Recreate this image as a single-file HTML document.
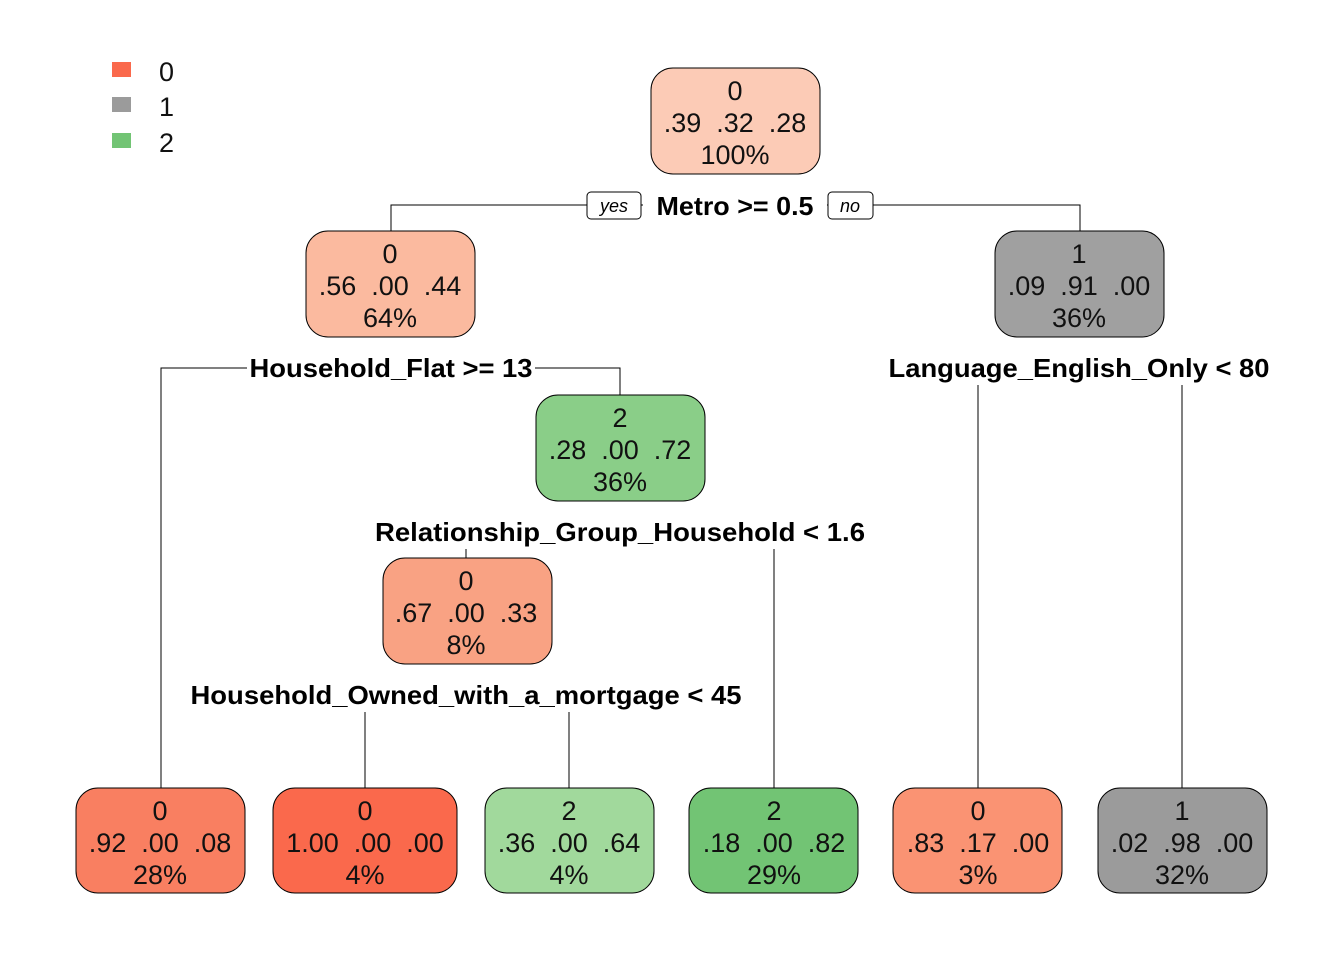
<!DOCTYPE html>
<html><head><style>body{margin:0;background:#fff}svg{display:block}</style></head><body>
<svg width="1344" height="960" xmlns="http://www.w3.org/2000/svg" font-family="Liberation Sans, Arial, sans-serif">
<rect width="1344" height="960" fill="#fff"/>
<g stroke="#000" stroke-width="1" fill="none">
<path d="M391 231V205H1080V231"/>
<path d="M161 788V368H620V395"/>
<path d="M978 385V788M1182 385V788"/>
<path d="M466 549V558M774 549V788"/>
<path d="M365 712V788M569 712V788"/>
</g>
<g font-size="26" font-weight="bold" text-anchor="middle" lengthAdjust="spacingAndGlyphs">
<rect x="643" y="192" width="184" height="28" fill="#fff"/>
<text x="735" y="215" textLength="157" lengthAdjust="spacingAndGlyphs">Metro &gt;= 0.5</text>
<rect x="247" y="354" width="288" height="28" fill="#fff"/>
<text x="391" y="377" textLength="283" lengthAdjust="spacingAndGlyphs">Household_Flat &gt;= 13</text>
<text x="1079" y="377" textLength="381" lengthAdjust="spacingAndGlyphs">Language_English_Only &lt; 80</text>
<text x="620" y="541" textLength="490" lengthAdjust="spacingAndGlyphs">Relationship_Group_Household &lt; 1.6</text>
<text x="466" y="704" textLength="551" lengthAdjust="spacingAndGlyphs">Household_Owned_with_a_mortgage &lt; 45</text>
</g>
<g font-size="18" font-style="italic" text-anchor="middle">
<rect x="587" y="192" width="54" height="27" rx="4" fill="#fff" stroke="#000"/>
<text x="614" y="212">yes</text>
<rect x="828" y="192" width="45" height="27" rx="4" fill="#fff" stroke="#000"/>
<text x="850" y="212">no</text>
</g>
<g stroke="#000" stroke-width="1">
<rect x="651" y="68" width="169" height="106" rx="22" fill="#FCCBB6"/>
<rect x="306" y="231" width="169" height="106" rx="22" fill="#FBBA9F"/>
<rect x="995" y="231" width="169" height="106" rx="22" fill="#A0A0A0"/>
<rect x="536" y="395" width="169" height="106" rx="22" fill="#8ACE88"/>
<rect x="383" y="558" width="169" height="106" rx="22" fill="#F9A283"/>
<rect x="76" y="788" width="169" height="105" rx="22" fill="#F97F61"/>
<rect x="273" y="788" width="184" height="105" rx="22" fill="#FA694C"/>
<rect x="485" y="788" width="169" height="105" rx="22" fill="#A1D99C"/>
<rect x="689" y="788" width="169" height="105" rx="22" fill="#72C474"/>
<rect x="893" y="788" width="169" height="105" rx="22" fill="#FA9373"/>
<rect x="1098" y="788" width="169" height="105" rx="22" fill="#9B9B9B"/>
</g>
<g font-size="27" text-anchor="middle" fill="#111">
<text x="735" y="100">0</text><text x="735" y="132" xml:space="preserve">.39  .32  .28</text><text x="735" y="164">100%</text>
<text x="390" y="263">0</text><text x="390" y="295" xml:space="preserve">.56  .00  .44</text><text x="390" y="327">64%</text>
<text x="1079" y="263">1</text><text x="1079" y="295" xml:space="preserve">.09  .91  .00</text><text x="1079" y="327">36%</text>
<text x="620" y="427">2</text><text x="620" y="459" xml:space="preserve">.28  .00  .72</text><text x="620" y="491">36%</text>
<text x="466" y="590">0</text><text x="466" y="622" xml:space="preserve">.67  .00  .33</text><text x="466" y="654">8%</text>
<text x="160" y="820">0</text><text x="160" y="852" xml:space="preserve">.92  .00  .08</text><text x="160" y="884">28%</text>
<text x="365" y="820">0</text><text x="365" y="852" xml:space="preserve">1.00  .00  .00</text><text x="365" y="884">4%</text>
<text x="569" y="820">2</text><text x="569" y="852" xml:space="preserve">.36  .00  .64</text><text x="569" y="884">4%</text>
<text x="774" y="820">2</text><text x="774" y="852" xml:space="preserve">.18  .00  .82</text><text x="774" y="884">29%</text>
<text x="978" y="820">0</text><text x="978" y="852" xml:space="preserve">.83  .17  .00</text><text x="978" y="884">3%</text>
<text x="1182" y="820">1</text><text x="1182" y="852" xml:space="preserve">.02  .98  .00</text><text x="1182" y="884">32%</text>
</g>
<rect x="112" y="62" width="19" height="15" fill="#FA694C"/>
<rect x="112" y="97" width="19" height="15" fill="#9B9B9B"/>
<rect x="112" y="133" width="19" height="15" fill="#72C474"/>
<g font-size="27" fill="#111">
<text x="159" y="81">0</text><text x="159" y="116">1</text><text x="159" y="152">2</text>
</g>
</svg>
</body></html>
